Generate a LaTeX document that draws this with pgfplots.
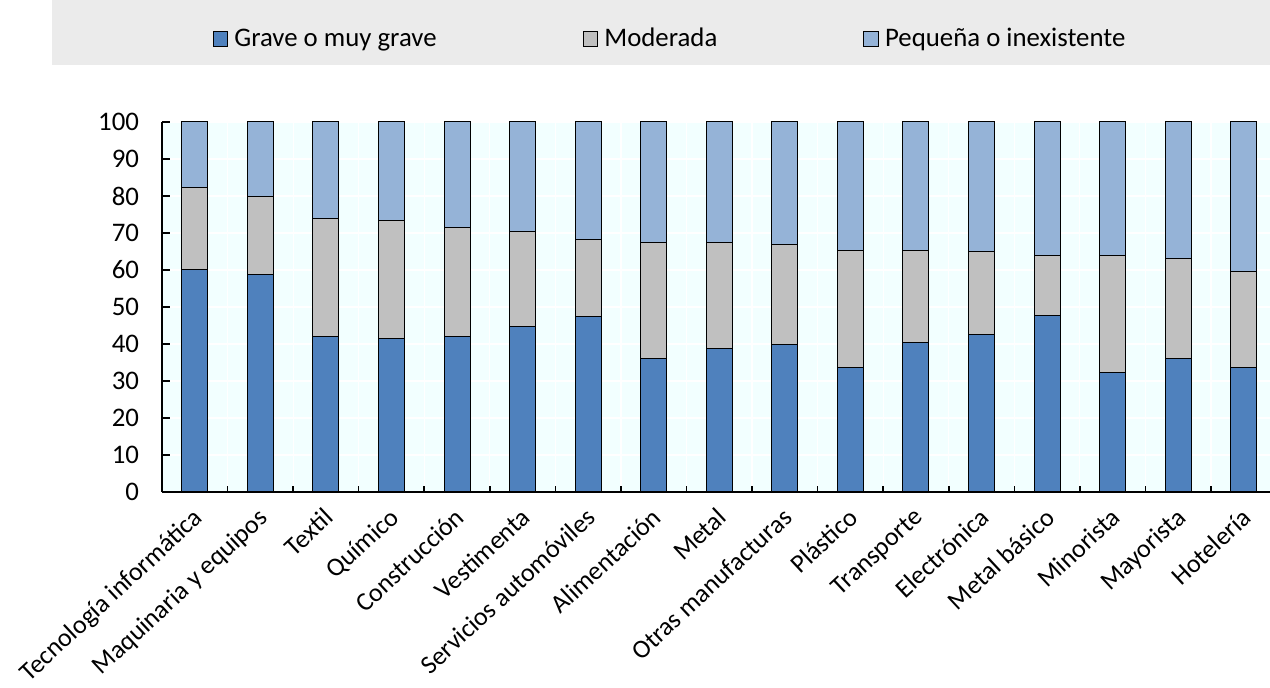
\documentclass[border=0pt]{standalone}
\usepackage{fontspec}
\setmainfont{Carlito}
\usepackage{pgfplots}
\usepackage{pgfplotstable}
\pgfplotsset{compat=1.18}
\definecolor{cblue}{HTML}{4F81BD}
\definecolor{cgray}{HTML}{C0C0C0}
\definecolor{clight}{HTML}{95B3D7}
\definecolor{bgc}{HTML}{F2FFFF}
\definecolor{legbg}{HTML}{EBEBEB}
\newcommand\f{\fontsize{13.4}{15}\selectfont}
\newcommand\fx{\fontsize{13.0}{15}\selectfont}
\pgfplotstableread{
x blue gray light
0 60.0 22.2 17.8
1 58.9 20.9 20.2
2 41.9 32.0 26.1
3 41.4 31.9 26.7
4 41.9 29.7 28.4
5 44.6 25.9 29.5
6 47.3 20.9 31.8
7 36.1 31.4 32.5
8 38.9 28.6 32.5
9 39.8 27.2 33.0
10 33.7 31.7 34.6
11 40.5 24.8 34.7
12 42.5 22.5 35.0
13 47.7 16.3 36.0
14 32.2 31.7 36.1
15 36.1 27.1 36.8
16 33.7 26.0 40.3
}\datatable
\begin{document}
\begin{tikzpicture}[x=1pt,y=1pt]
\fill[legbg] (26,311.5) rectangle (635,344);
\begin{axis}[
  at={(81pt,98pt)}, anchor=south west,
  scale only axis, width=554pt, height=185pt,
  xmin=-0.5, xmax=16.4, ymin=0, ymax=100,
  ybar stacked, bar width=13pt,
  axis background/.style={fill=bgc},
  axis x line*=bottom, axis y line*=left,
  axis line style={black, line width=0.8pt},
  tick align=inside,
  xtick={0,...,16},
  xticklabels={Tecnología informática, Maquinaria y equipos, Textil, Químico, Construcción, Vestimenta, Servicios automóviles, Alimentación, Metal, Otras manufacturas, Plástico, Transporte, Electrónica, Metal básico, Minorista, Mayorista, Hotelería},
  major x tick style={draw=none},
  minor xtick={0.5,1.5,...,15.5},
  minor tick length=3pt,
  major tick length=4pt,
  every tick/.style={black, line width=0.8pt},
  ytick={0,10,...,100},
  ymajorgrids, xminorgrids,
  grid style={white, line width=0.6pt},
  x tick label style={font=\fx, inner sep=1pt, xshift=-1.6pt, yshift=-5.6pt, rotate=43, anchor=north east},
  y tick label style={font=\f, xshift=-8pt},
  /pgf/number format/assume math mode=true,
  legend columns=3,
  legend style={draw=none, fill=none, font=\f, at={(0.4594,1.2243)}, anchor=center,
    /tikz/every even column/.append style={column sep=71pt},
    /tikz/every odd column/.append style={column sep=1pt}},
  legend image code/.code={\draw[#1, line width=0.5pt] (0pt,-3.7pt) rectangle (7.4pt,3.7pt);},
]
\addplot[fill=cblue, draw=black, line width=0.5pt] table[x=x, y=blue] {\datatable};
\addplot[fill=cgray, draw=black, line width=0.5pt] table[x=x, y=gray] {\datatable};
\addplot[fill=clight, draw=black, line width=0.5pt] table[x=x, y=light] {\datatable};
\legend{Grave o muy grave, Moderada, Pequeña o inexistente}
\end{axis}
\pgfresetboundingbox
\path (0,0) rectangle (635,344);
\end{tikzpicture}
\end{document}
